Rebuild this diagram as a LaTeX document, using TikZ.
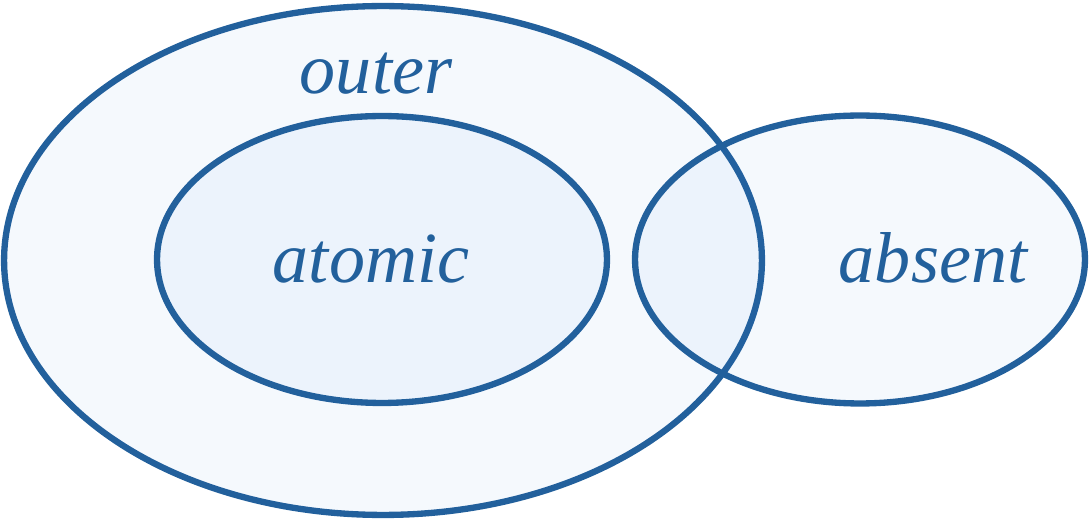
\documentclass[tikz,border=0pt]{standalone}
\usepackage{fontspec}
\setmainfont{Liberation Serif}
\usetikzlibrary{shapes.geometric}

\definecolor{setblue}{RGB}{34,96,156}
\definecolor{setfill}{RGB}{60,130,220}
\tikzset{
  setshape/.style={ellipse, draw=setblue, line width=3.6pt, fill=setfill,
    fill opacity=0.05, inner sep=0pt},
  setlabel/.style={text=setblue, anchor=base,
    font=\fontsize{41}{48}\selectfont\itshape}
}

\begin{document}
\begin{tikzpicture}[x=0.02cm, y=0.02cm]
    \useasboundingbox (0,0) rectangle (1090,521);

    % Sets
    \node[setshape, minimum width=15.16cm, minimum height=10.18cm] (outer) at (383,260.5) {};
    \node[setshape, minimum width=9.0cm, minimum height=5.74cm] (atomic) at (382,261.5) {};
    \node[setshape, minimum width=9.0cm, minimum height=5.76cm] (absent) at (860,261.5) {};

    % Labels
    \node[setlabel] (outerlabel) at (376,427) {outer};
    \node[setlabel] (atomiclabel) at (371,238) {atomic};
    \node[setlabel] (absentlabel) at (933,238) {absent};

\end{tikzpicture}
\end{document}
